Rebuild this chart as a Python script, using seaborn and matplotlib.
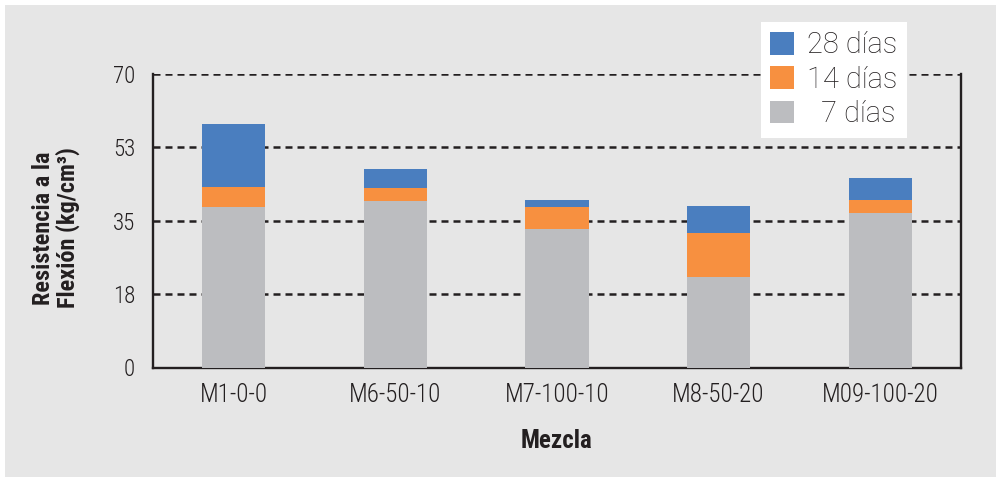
import numpy as np
import pandas as pd
import matplotlib
matplotlib.use("Agg")
import matplotlib.pyplot as plt
from matplotlib import font_manager as fm
import seaborn as sns

categories = ["M1-0-0", "M6-50-10", "M7-100-10", "M8-50-20", "M09-100-20"]
dias_7 = [38.2, 39.6, 32.9, 21.5, 36.8]
dias_14 = [43.0, 42.7, 38.2, 32.0, 39.9]
dias_28 = [58.0, 47.3, 39.9, 38.4, 45.1]
y_ticks = [0, 17.5, 35, 52.5, 70]
y_tick_labels = ["0", "18", "35", "53", "70"]

sns.set_theme(style="white")
avail = {f.name for f in fm.fontManager.ttflist}
def pick(*names):
    for n in names:
        if n in avail:
            return n
    return "DejaVu Sans"
narrow = pick("Roboto Condensed", "Liberation Sans Narrow", "Liberation Sans")
roboto = pick("Roboto", "Liberation Sans")
plt.rcParams["font.family"] = [narrow, "DejaVu Sans"]

bg = "#e6e6e6"
dark = "#231f20"
fig = plt.figure(figsize=(10.01, 4.82), dpi=100, facecolor="white")
fig.patches.append(plt.Rectangle((5/1001, 5/482), 1 - 10/1001, 1 - 10/482,
                                 transform=fig.transFigure, facecolor=bg,
                                 edgecolor="none", zorder=-10))
ax = fig.add_axes([153/1001, 1 - 367.5/482, (961 - 153)/1001, (367.5 - 73.7)/482])
ax.set_facecolor(bg)

df = pd.DataFrame({"Mezcla": categories, "d7": dias_7, "d14": dias_14, "d28": dias_28})
series = [("d28", "28 días", "#4a7ebf"), ("d14", "14 días", "#f79040"), ("d7", "  7 días", "#bcbdc0")]
for col, lab, colr in series:
    sns.barplot(data=df, x="Mezcla", y=col, color=colr, width=0.39, ax=ax,
                label=lab, saturation=1, zorder=3, linewidth=0, edgecolor="none")

ax.set_xlim(-0.5, 4.5)
ax.set_ylim(0, 70)
ax.set_yticks(y_ticks)
ax.set_yticklabels(y_tick_labels)
for yv in y_ticks[1:]:
    ax.axhline(yv, color=dark, lw=1.8, ls=(0, (2.8, 2.0)), zorder=1)

ax.set_xticks(range(len(categories)))
ax.set_xticklabels(categories)
ax.set_xticks(np.arange(-0.5, len(categories), 1.0), minor=True)
ax.tick_params(axis="x", which="major", length=0, pad=11, labelsize=18, labelcolor=dark)
ax.tick_params(axis="x", which="minor", length=10.8, width=1.7, color=dark, direction="out")
ax.tick_params(axis="y", which="major", length=7.2, width=1.8, color=dark, direction="out",
               labelsize=16.5, labelcolor=dark, pad=5.8)
for t in ax.get_xticklabels() + ax.get_yticklabels():
    t.set_fontweight("light")

for s in ["left", "bottom", "right"]:
    ax.spines[s].set_visible(True)
    ax.spines[s].set_color(dark)
    ax.spines[s].set_linewidth(1.7)
ax.spines["top"].set_visible(False)
ax.set_xlabel("")
ax.set_ylabel("")

fig.text(557/1001, 1 - 441/482, "Mezcla", fontsize=18, fontweight="bold", color=dark,
         ha="center", va="center", family=[narrow, "DejaVu Sans"])
fig.text(56/1001, 1 - 228/482, "Resistencia a la\nFlexión (kg/cm³)", fontsize=17.5,
         fontweight="bold", color=dark, rotation=90, ha="center", va="center",
         multialignment="center", linespacing=1.0, family=[narrow, "DejaVu Sans"])

handles, labels = ax.get_legend_handles_labels()
leg = ax.legend(handles, labels, loc="upper left", bbox_to_anchor=(761/1001, 1 - 22/482),
                bbox_transform=fig.transFigure, frameon=True, fancybox=False,
                facecolor="white", edgecolor="none", framealpha=1,
                handlelength=0.8, handleheight=0.83, handletextpad=0.45,
                labelspacing=0.22, borderpad=0.32, borderaxespad=0,
                prop={"family": roboto, "size": 21, "weight": "light"})
leg.set_zorder(10)
for t in leg.get_texts():
    t.set_color(dark)

fig.savefig("out.png", dpi=100, facecolor="white")
